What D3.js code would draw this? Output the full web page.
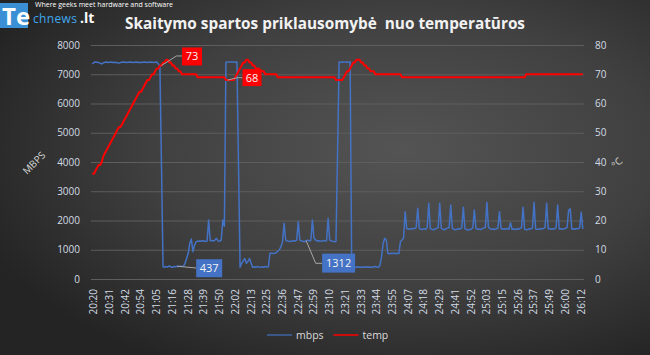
<!DOCTYPE html>
<html><head><meta charset="utf-8">
<script src="https://cdn.jsdelivr.net/npm/d3@7"></script>
<style>html,body{margin:0;padding:0;background:#333;}svg{display:block}</style>
</head><body>
<svg id="c" width="650" height="355"></svg>
<script>
// ---------------- DATA ----------------
const tickLabels = ["20:20","20:31","20:42","20:54","21:05","21:16","21:28","21:39","21:50","22:02","22:13","22:25","22:36","22:47","22:59","23:10","23:21","23:33","23:44","23:55","24:07","24:18","24:29","24:41","24:52","25:03","25:15","25:26","25:37","25:49","26:00","26:12"];
const tickEvery = 10; // one label every 10 samples
const mbps = [
7350,7400,7420,7410,7400,7380,7350,7390,7410,7420,
7400,7410,7420,7400,7410,7400,7390,7380,7400,7410,
7420,7410,7400,7410,7420,7410,7400,7410,7420,7400,
7410,7400,7410,7420,7410,7400,7410,7420,7410,7400,
7410,7420,7350,7300,
3900,
420,400,430,410,450,410,400,430,420,437,430,440,430,440,
536,700,880,1220,1367,934,1150,1276,
1290,1300,1290,1310,1300,1280,1300,
2017,
1310,1320,1300,1330,1390,1300,1290,1330,
2017,1800,
7410,7420,7420,7420,7420,7420,7410,7420,
3900,
400,536,620,700,536,600,700,550,400,420,400,430,410,400,420,400,430,410,420,
878,880,870,878,900,950,1000,
1105,1276,1904,1333,
1300,1290,1280,1300,1310,1300,1330,
1960,1333,
1300,1290,1276,
1312,
1330,1300,1320,
2017,
1400,1333,
1300,1310,1290,1300,1320,1300,1310,
2075,
1333,1300,1290,1276,1280,
4300,
7420,7420,7410,7420,7420,7420,7410,7420,
420,400,410,400,420,400,400,410,400,420,400,410,400,400,420,430,410,400,
480,764,1220,1391,1333,878,
860,880,870,890,860,878,870,
1276,1333,1400,2302,1733,
1700,1720,1710,1730,1720,1760,
2416,
1733,1700,1690,1720,1700,1750,
2587,
1733,1700,1680,1710,1730,1760,
2587,
1733,1700,1680,1720,1740,1760,
2530,
1733,1700,1680,1700,1720,1710,1750,
2450,
1733,1690,1670,1690,1700,1750,
2359,
1733,1700,1710,1690,1720,1740,1760,
2621,
1760,1720,1700,1710,1690,1720,1740,
2302,
1733,1700,1720,1700,1730,1700,
1926,
1700,1710,1690,1720,1700,1730,1750,
2450,
1700,1680,1690,1720,1710,1750,
2621,
1710,1700,1700,1720,1710,1730,1760,
2587,
1710,1730,1700,1720,1710,1750,
2530,
1710,1720,1700,1720,1730,1760,
2359,2400,
1710,1720,1700,1730,1710,1750,
2280,
1710
];
const temp = [
36,36,37,38,39,39,40,42,43,44,
45,46,47,48,49,50,51,52,52,53,
54,55,56,57,58,59,60,61,62,63,
64,64,65,66,67,68,68,69,70,70,
71,72,72,73,73,74,74,75,75,74,
74,73,73,72,72,71,71,70,70,70,
70,70,70,70,70,70,70,69,69,69,
69,69,69,69,69,69,69,69,69,69,69,69,69,69,69,
68,68,68,68,68,
68,69,70,71,72,73,74,74,75,75,
74,74,73,73,72,72,72,71,71,71,
70,70,70,70,70,70,70,70,
69,69,69,69,69,69,69,69,69,69,69,69,69,69,69,69,69,69,69,69,69,69,69,69,69,69,69,69,69,69,69,69,69,69,69,69,69,
68,68,68,68,68,
69,70,71,71,72,73,74,74,75,75,
75,74,74,73,73,72,72,71,71,71,
70,70,70,70,70,70,70,70,70,70,70,70,70,70,70,70,70,
69,69,69,69,69,69,69,69,69,69,69,69,69,69,69,69,69,69,69,69,
69,69,69,69,69,69,69,69,69,69,69,69,69,69,69,69,69,69,69,69,
69,69,69,69,69,69,69,69,69,69,69,69,69,69,69,69,69,69,69,69,
69,69,69,69,69,69,69,69,69,69,69,69,69,69,69,69,69,69,69,
70,70,70,70,70,70,70,70,70,70,70,70,70,70,70,70,70,70,70,70,
70,70,70,70,70,70,70,70,70,70,70,70,70,70,70,70,70
];
const seriesNames = ["mbps","temp"];
const leftTicks = [0,1000,2000,3000,4000,5000,6000,7000,8000];
const rightTicks = [0,10,20,30,40,50,60,70,80];
const dataLabels = [
  {series:"temp", index:44},
  {series:"temp", index:86},
  {series:"mbps", index:54},
  {series:"mbps", index:136}
];
const titleText = "Skaitymo spartos priklausomybė  nuo temperatūros";

// ---------------- DRAW ----------------
const svg = d3.select("#c");
const W = 650, H = 355;
const defs = svg.append("defs");
const rg = defs.append("radialGradient").attr("id","bg")
  .attr("cx","0.62").attr("cy","0.42").attr("r","0.7").attr("fx","0.62").attr("fy","0.42");
rg.append("stop").attr("offset","0").attr("stop-color","#545454");
rg.append("stop").attr("offset","0.55").attr("stop-color","#404040");
rg.append("stop").attr("offset","1").attr("stop-color","#242424");
svg.append("rect").attr("width",W).attr("height",H).attr("fill","url(#bg)");

const plot = {left:91, right:584, top:45, bottom:279};
const x = d3.scaleLinear().domain([0, mbps.length-1]).range([92.3, 582.8]);
const yL = d3.scaleLinear().domain([0,8000]).range([plot.bottom, plot.top]);
const yR = d3.scaleLinear().domain([0,80]).range([plot.bottom, plot.top]);
const scaleOf = {mbps: yL, temp: yR};
const dataOf = {mbps: mbps, temp: temp};
const colorOf = {mbps: "#4472c4", temp: "#ff0000"};
const widthOf = {mbps: 1.5, temp: 2};
const labelFill = "#d3dbe4";
const font = "'Open Sans', 'Noto Sans', sans-serif";

// left axis + gridlines
const gL = svg.append("g").attr("transform",`translate(${plot.left},0)`)
  .call(d3.axisLeft(yL).tickValues(leftTicks).tickFormat(d3.format("d"))
    .tickSize(-(plot.right-plot.left)).tickPadding(11));
gL.select(".domain").remove();
gL.selectAll("line").attr("stroke","#5e5e5e").attr("stroke-width",1);
gL.selectAll("text").attr("fill",labelFill).style("font-family",font).style("font-size","10px");

// right axis
const gR = svg.append("g").attr("transform",`translate(${plot.right},0)`)
  .call(d3.axisRight(yR).tickValues(rightTicks).tickFormat(d3.format("d")).tickSize(0).tickPadding(11));
gR.select(".domain").remove();
gR.selectAll("text").attr("fill",labelFill).style("font-family",font).style("font-size","10px");

// bottom axis
const xTickVals = tickLabels.map((d,i)=>i*tickEvery);
const gB = svg.append("g").attr("transform",`translate(0,${plot.bottom})`)
  .call(d3.axisBottom(x).tickValues(xTickVals).tickFormat(v=>tickLabels[v/tickEvery]).tickSize(0));
gB.select(".domain").remove();
gB.selectAll("text")
  .attr("transform","rotate(-90)").attr("x",-10).attr("y",1).attr("dy","0.35em")
  .attr("text-anchor","end")
  .attr("fill",labelFill).style("font-family",font).style("font-size","10px");

// axis titles
svg.append("text").attr("transform","translate(34,163) rotate(-45)")
  .attr("text-anchor","middle").attr("dy","0.35em")
  .attr("fill","#d9d9d9").style("font-family",font).style("font-size","10px").text("MBPS");
svg.append("text").attr("transform","translate(617,163) rotate(-45)")
  .attr("text-anchor","middle").attr("dy","0.35em")
  .attr("fill","#d9d9d9").style("font-family",font).style("font-size","10px").text("°C");

// lines
seriesNames.forEach(s=>{
  const line = d3.line().x((d,i)=>x(i)).y(d=>scaleOf[s](d));
  svg.append("path").datum(dataOf[s])
    .attr("d",line).attr("fill","none")
    .attr("stroke",colorOf[s]).attr("stroke-width",widthOf[s])
    .attr("stroke-linejoin","round");
});

// data labels (callouts)
const calloutStyle = {
  "temp-44":  {dx:20.5, dy:-18, w:20, h:18, elbowDx:15, elbowDy:-9.5},
  "temp-86":  {dx:15, dy:-11, w:19, h:17, elbowDx:10, elbowDy:-2.4},
  "mbps-54":  {dx:19, dy:-7,  w:26, h:18, elbowDx:19, elbowDy:1.8},
  "mbps-136": {dx:16, dy:13,  w:33, h:19, elbowDx:9.6, elbowDy:22.7}
};
dataLabels.forEach(l=>{
  const v = dataOf[l.series][l.index];
  const px = x(l.index), py = scaleOf[l.series](v);
  const st = calloutStyle[l.series+"-"+l.index];
  const bx = px+st.dx, by = py+st.dy;
  const midY = by + st.h/2;
  svg.append("polyline")
    .attr("points",`${px},${py} ${px+st.elbowDx},${py+st.elbowDy} ${bx},${py+st.elbowDy}`)
    .attr("fill","none").attr("stroke","#a6a6a6").attr("stroke-width",1);
  svg.append("rect").attr("x",bx).attr("y",by).attr("width",st.w).attr("height",st.h)
    .attr("fill",colorOf[l.series]);
  svg.append("text").attr("x",bx+st.w/2).attr("y",midY).attr("dy","0.36em")
    .attr("text-anchor","middle").attr("fill","#f4f4f4")
    .style("font-family",font).style("font-size","11px").text(v);
});

// legend
const legend = [{s:"mbps", x:267},{s:"temp", x:333.5}];
legend.forEach(l=>{
  svg.append("line").attr("x1",l.x).attr("x2",l.x+25).attr("y1",335).attr("y2",335)
    .attr("stroke",colorOf[l.s]).attr("stroke-width",widthOf[l.s]===2?1.5:1.2);
  svg.append("text").attr("x",l.x+29).attr("y",335).attr("dy","0.35em")
    .attr("fill","#d9d9d9").style("font-family",font).style("font-size","10.5px").text(l.s);
});

// logo
svg.append("rect").attr("x",0).attr("y",3).attr("width",28).attr("height",25).attr("fill","#3b8fd4");
svg.append("text").attr("x",2).attr("y",25).attr("fill","#ffffff")
  .style("font-family",font).style("font-weight","700").style("font-size","24px").text("Te");
svg.append("text").attr("x",33).attr("y",22.5).attr("fill","#3fa7ee")
  .attr("textLength",44).attr("lengthAdjust","spacing")
  .style("font-family",font).style("font-size","12px").text("chnews");
svg.append("text").attr("x",80).attr("y",22.5).attr("fill","#ffffff")
  .style("font-family",font).style("font-weight","700").style("font-size","14px").text(".lt");
svg.append("text").attr("x",35).attr("y",7).attr("fill","#ffffff")
  .attr("textLength",138).attr("lengthAdjust","spacingAndGlyphs")
  .style("font-family",font).style("font-size","7px").text("Where geeks meet hardware and software");

// title
svg.append("text").attr("x",125).attr("y",29).attr("fill","#f2f2f2")
  .attr("textLength",400).attr("lengthAdjust","spacingAndGlyphs")
  .style("white-space","pre")
  .style("font-family",font).style("font-weight","700").style("font-size","16px").text(titleText);
</script>
</body></html>
